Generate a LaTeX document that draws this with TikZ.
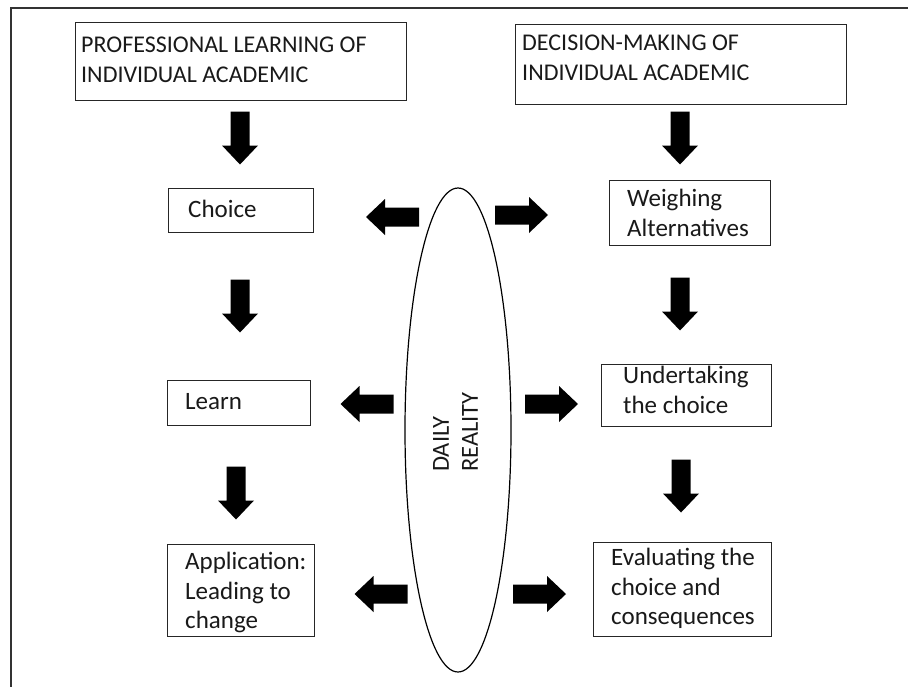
\documentclass[tikz,border=0pt]{standalone}
\usepackage{fontspec}
\setmainfont{Carlito}
\usetikzlibrary{shapes.geometric}

\tikzset{
  frameline/.style={line width=2pt, draw=black!80},
  stagebox/.style={draw=black!85, line width=1.4pt, inner sep=0pt, anchor=north west},
  stagetext/.style={anchor=north west, inner sep=0pt, align=left,
    font=\fontsize{25}{29.5}\selectfont, text=black!90},
  headtext/.style={stagetext, font=\fontsize{24}{30}\selectfont},
  realityring/.style={draw=black, line width=1.2pt, ellipse, inner sep=0pt},
  pics/blockarrow/.style={code={
    \fill[black] (-26.5,-9.5) -- (7.5,-9.5) -- (7.5,-18) -- (26.5,0)
      -- (7.5,18) -- (7.5,9.5) -- (-26.5,9.5) -- cycle;}}
}

\begin{document}
\begin{tikzpicture}[x=1pt, y=-1pt]
  % page area and outer frame
  \fill[white] (0,0) rectangle (908,686);
  \useasboundingbox (0,0) rectangle (908,686);
  \draw[frameline] (11,720) -- (11,7.5) -- (940,7.5);

  % left column: professional learning
  \node[stagebox, minimum width=331pt, minimum height=78pt] (prof) at (75,22) {};
  \node[headtext] (proft) at (81,37) {PROFESSIONAL LEARNING OF\\INDIVIDUAL ACADEMIC};
  \node[stagebox, minimum width=145pt, minimum height=44pt] (choice) at (168,188) {};
  \node[stagetext] (choicet) at (188,200) {Choice};
  \node[stagebox, minimum width=143pt, minimum height=45pt] (learn) at (167,380) {};
  \node[stagetext] (learnt) at (185,393) {Learn};
  \node[stagebox, minimum width=147pt, minimum height=92pt] (apply) at (167,544) {};
  \node[stagetext] (applyt) at (185,552) {Application:\\Leading to\\change};

  % right column: decision-making
  \node[stagebox, minimum width=331pt, minimum height=80pt] (decide) at (515,24) {};
  \node[headtext] (decidet) at (522,35) {DECISION-MAKING OF\\INDIVIDUAL ACADEMIC};
  \node[stagebox, minimum width=161pt, minimum height=65pt] (weigh) at (609,180) {};
  \node[stagetext] (weight) at (627,189) {Weighing\\Alternatives};
  \node[stagebox, minimum width=170pt, minimum height=62pt] (undertake) at (601,364) {};
  \node[stagetext] (undertaket) at (623,366) {Undertaking\\the choice};
  \node[stagebox, minimum width=178pt, minimum height=94pt] (evaluate) at (593,542) {};
  \node[stagetext] (evaluatet) at (611,548) {Evaluating the\\choice and\\consequences};

  % daily reality in the middle
  \node[realityring, minimum width=106pt, minimum height=484pt] (reality) at (458,430) {};
  \node[stagetext, font=\fontsize{24.5}{29}\selectfont, rotate=90] (realityt) at (433,472) {DAILY\\REALITY};

  % downward block arrows
  \pic[rotate=-90] at (240,138) {blockarrow};
  \pic[rotate=-90] at (240,306) {blockarrow};
  \pic[rotate=-90] at (236,493) {blockarrow};
  \pic[rotate=-90] at (680,138) {blockarrow};
  \pic[rotate=-90] at (680,304) {blockarrow};
  \pic[rotate=-90] at (681,486) {blockarrow};

  % block arrows leaving daily reality
  \pic[rotate=180] at (392.5,217) {blockarrow};
  \pic[rotate=180] at (367,404) {blockarrow};
  \pic[rotate=180] at (381,594) {blockarrow};
  \pic at (521.5,215) {blockarrow};
  \pic at (551.5,404) {blockarrow};
  \pic at (539.5,594) {blockarrow};
\end{tikzpicture}
\end{document}
